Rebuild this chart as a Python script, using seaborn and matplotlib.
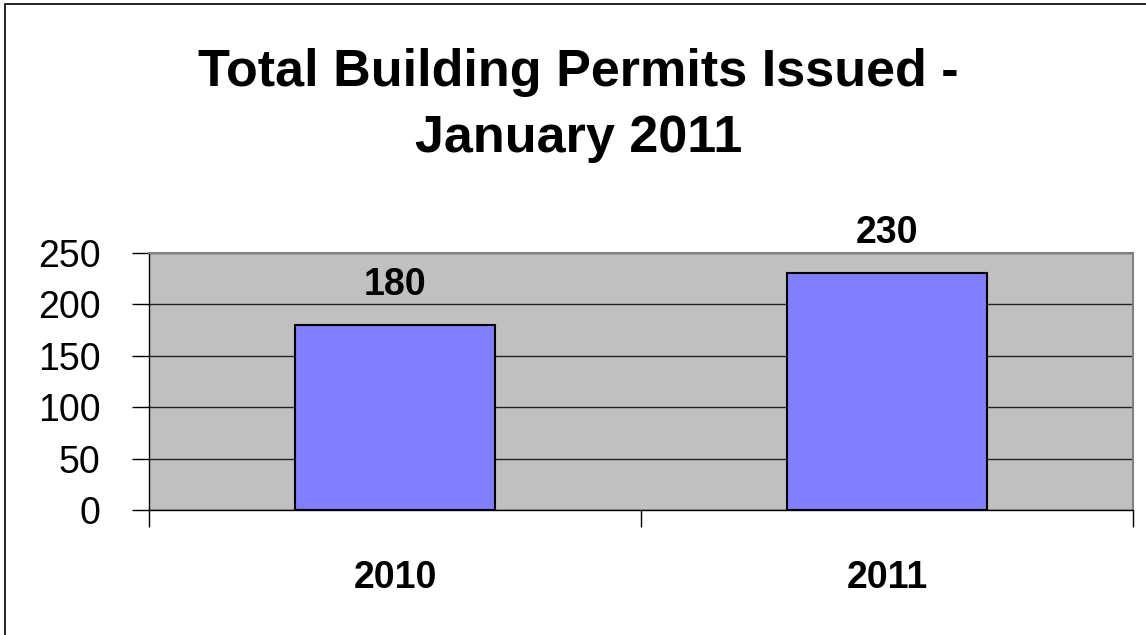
import pandas as pd
import matplotlib
matplotlib.use("Agg")
import matplotlib.pyplot as plt
import seaborn as sns
from matplotlib.patches import Rectangle

years = ["2010", "2011"]
permits = [180, 230]
y_ticks = [0, 50, 100, 150, 200, 250]

df = pd.DataFrame({"year": years, "permits": permits})

sns.set_style("white")
plt.rcParams["font.family"] = ["Liberation Sans", "DejaVu Sans"]
plt.rcParams["text.color"] = "black"
plt.rcParams["xtick.color"] = "black"
plt.rcParams["ytick.color"] = "black"

fig = plt.figure(figsize=(11.46, 6.35), dpi=100)
ax = fig.add_axes([0.130, 0.197, 0.8587, 0.4047])
ax.set_facecolor("#C0C0C0")

sns.barplot(data=df, x="year", y="permits", color="#8080FF", saturation=1,
            width=0.405, edgecolor="black", linewidth=1.5, ax=ax, zorder=3)

ax.set_xlim(-0.5, 1.5)
ax.set_ylim(0, 250)
ax.set_yticks(y_ticks)
ax.set_yticklabels([str(t) for t in y_ticks], fontsize=27)
ax.yaxis.grid(True, color="#222222", linewidth=1)
ax.set_axisbelow(True)
ax.tick_params(axis="y", direction="out", length=12, width=1, color="black", pad=23, left=True)

# category boundary ticks on x axis
ax.set_xticks([-0.5, 0.5, 1.5], minor=False)
ax.set_xticklabels(["", "", ""])
ax.set_xticks([0, 1], minor=True)
ax.set_xticklabels(years, minor=True, fontsize=27, fontweight="bold")
ax.tick_params(axis="x", which="major", direction="out", length=12, width=1, color="black", bottom=True)
ax.tick_params(axis="x", which="minor", length=0, pad=36)

ax.set_xlabel("")
ax.set_ylabel("")

for s in ["top", "right"]:
    ax.spines[s].set_color("#808080")
    ax.spines[s].set_linewidth(1.5)
for s in ["left", "bottom"]:
    ax.spines[s].set_color("black")
    ax.spines[s].set_linewidth(1)

for i, v in enumerate(permits):
    ax.annotate(str(v), (i, v), xytext=(0, 22), textcoords="offset pixels",
                ha="center", va="bottom", fontsize=27, fontweight="bold")

fig.text(0.505, 0.834, "Total Building Permits Issued -\nJanuary 2011", ha="center", va="center",
         fontsize=37.5, fontweight="bold", linespacing=1.45)

fig.patches.append(Rectangle((5 / 1146, -0.01), 1.0, 1.01 - 4 / 635,
                             transform=fig.transFigure, fill=False,
                             edgecolor="black", linewidth=1.2))

fig.savefig("out.png", dpi=100)
